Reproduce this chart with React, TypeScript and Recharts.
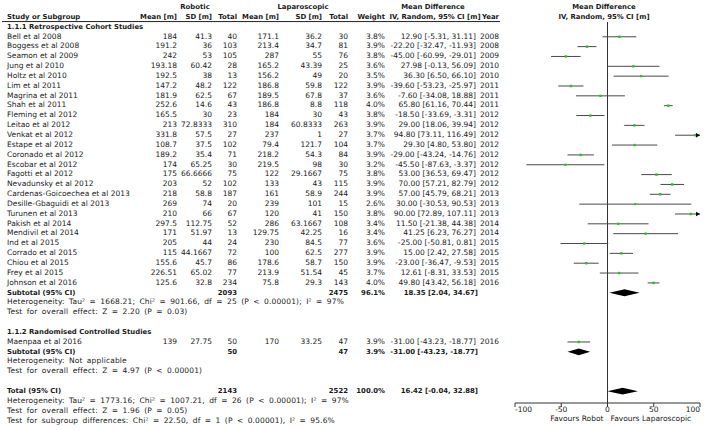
import React from "react";
import { ComposedChart, XAxis, YAxis, Scatter, ReferenceLine } from "recharts";

const FONT = '"DejaVu Sans", Verdana, sans-serif';
const FS = 7.5;
const FS_BOLD = 6.9;

// study rows (operative time, minutes)
const studyNames = [
  "Bell et al 2008", "Boggess et al 2008", "Seamon et al 2009", "Jung et al 2010",
  "Holtz et al 2010", "Lim et al 2011", "Magrina et al 2011", "Shah et al 2011",
  "Fleming et al 2012", "Leitao et al 2012", "Venkat et al 2012", "Estape et al 2012",
  "Coronado et al 2012", "Escobar et al 2012", "Fagotti et al 2012", "Nevadunsky et al 2012",
  "Cardenas-Goicoechea  et al 2013", "Desille-Gbaguidi et al 2013", "Turunen et al 2013",
  "Pakish et al 2014", "Mendivil et al 2014", "Ind et al 2015", "Corrado et al 2015",
  "Chiou et al 2015", "Frey et al 2015", "Johnson et al 2016", "Maenpaa et al 2016",
];
const subgroup = [1, 1, 1, 1, 1, 1, 1, 1, 1, 1, 1, 1, 1, 1, 1, 1, 1, 1, 1, 1, 1, 1, 1, 1, 1, 1, 2];
const roboticMean = [184, 191.2, 242, 193.18, 192.5, 147.2, 181.9, 252.6, 165.5, 213, 331.8, 108.7, 189.2, 174, 175, 203, 218, 269, 210, 297.5, 171, 205, 115, 155.6, 226.51, 125.6, 139];
const roboticSD = [41.3, 36, 53, 60.42, 38, 48.2, 62.5, 14.6, 30, 72.8333, 57.5, 37.5, 35.4, 65.25, 66.6666, 52, 58.8, 74, 66, 112.75, 51.97, 44, 44.1667, 45.7, 65.02, 32.8, 27.75];
const roboticTotal = [40, 103, 105, 28, 13, 122, 67, 43, 23, 310, 27, 102, 71, 30, 75, 102, 187, 20, 67, 52, 13, 24, 72, 86, 77, 234, 50];
const laparoMean = [171.1, 213.4, 287, 165.2, 156.2, 186.8, 189.5, 186.8, 184, 184, 237, 79.4, 218.2, 219.5, 122, 133, 161, 239, 120, 286, 129.75, 230, 100, 178.6, 213.9, 75.8, 170];
const laparoSD = [36.2, 34.7, 55, 43.39, 49, 59.8, 67.8, 8.8, 30, 60.8333, 1, 121.7, 54.3, 98, 29.1667, 43, 58.9, 101, 41, 63.1667, 42.25, 84.5, 62.5, 58.7, 51.54, 29.3, 33.25];
const laparoTotal = [30, 81, 76, 25, 20, 122, 37, 118, 43, 263, 27, 104, 84, 30, 75, 115, 244, 15, 150, 108, 16, 77, 277, 150, 45, 143, 47];
const weightPct = [3.8, 3.9, 3.8, 3.6, 3.5, 3.9, 3.6, 4.0, 3.8, 3.9, 3.7, 3.7, 3.9, 3.2, 3.8, 3.9, 3.9, 2.6, 3.8, 3.4, 3.4, 3.6, 3.9, 3.9, 3.7, 4.0, 3.9];
const meanDiff = [12.9, -22.2, -45.0, 27.98, 36.3, -39.6, -7.6, 65.8, -18.5, 29.0, 94.8, 29.3, -29.0, -45.5, 53.0, 70.0, 57.0, 30.0, 90.0, 11.5, 41.25, -25.0, 15.0, -23.0, 12.61, 49.8, -31.0];
const ciLow = [-5.31, -32.47, -60.99, -0.13, 6.5, -53.23, -34.08, 61.16, -33.69, 18.06, 73.11, 4.8, -43.24, -87.63, 36.53, 57.21, 45.79, -30.53, 72.89, -21.38, 6.23, -50.81, 2.42, -36.47, -8.31, 43.42, -43.23];
const ciHigh = [31.11, -11.93, -29.01, 56.09, 66.1, -25.97, 18.88, 70.44, -3.31, 39.94, 116.49, 53.8, -14.76, -3.37, 69.47, 82.79, 68.21, 90.53, 107.11, 44.38, 76.27, 0.81, 27.58, -9.53, 33.53, 56.18, -18.77];
const studyYear = [2008, 2008, 2009, 2010, 2010, 2011, 2011, 2011, 2012, 2012, 2012, 2012, 2012, 2012, 2012, 2012, 2013, 2013, 2013, 2014, 2014, 2015, 2015, 2015, 2015, 2016, 2016];

// pooled estimates: subgroup 1.1.1, subgroup 1.1.2, overall
const pooledLabels = ["Subtotal (95% CI)", "Subtotal (95% CI)", "Total (95% CI)"];
const pooledRobotic = [2093, 50, 2143];
const pooledLaparo = [2475, 47, 2522];
const pooledWeight = [96.1, 3.9, 100.0];
const pooledMD = [18.35, -31.0, 16.42];
const pooledLow = [2.04, -43.23, -0.04];
const pooledHigh = [34.67, -18.77, 32.88];

const subgroupTitles = ["1.1.1 Retrospective Cohort Studies", "1.1.2 Randomised Controlled Studies"];
const subgroupNotes = [
  ["Heterogeneity: Tau² = 1668.21; Chi² = 901.66, df = 25 (P < 0.00001); I² = 97%", "Test for overall effect: Z = 2.20 (P = 0.03)"],
  ["Heterogeneity: Not applicable", "Test for overall effect: Z = 4.97 (P < 0.00001)"],
];
const totalNotes = [
  "Heterogeneity: Tau² = 1773.16; Chi² = 1007.21, df = 26 (P < 0.00001); I² = 97%",
  "Test for overall effect: Z = 1.96 (P = 0.05)",
  "Test for subgroup differences: Chi² = 22.50, df = 1 (P < 0.00001), I² = 95.6%",
];
const xTicks = [-100, -50, 0, 50, 100];
const X_MIN = -100;
const X_MAX = 100;

// column anchors of the left table
const COL = { name: 7, rMean: 177, rSD: 212, rN: 237, lMean: 279, lSD: 322, lN: 348, wt: 385, ci: 476, year: 499 };

type Cell = { t: string; x: number; a?: "start" | "middle" | "end"; b?: boolean; n?: boolean };

const table = new Map<number, Cell[]>();
const studyLine: number[] = [];
const pooledLine: number[] = [];
let line = 0;
const add = (cells: Cell[]) => {
  table.set(line, cells);
  line += 1;
};

const ciText = (m: number, lo: number, hi: number) => `${m.toFixed(2)} [${lo.toFixed(2)}, ${hi.toFixed(2)}]`;

const pooledCells = (k: number): Cell[] => [
  { t: pooledLabels[k], x: COL.name, b: true },
  { t: String(pooledRobotic[k]), x: COL.rN, a: "end", b: true },
  { t: String(pooledLaparo[k]), x: COL.lN, a: "end", b: true },
  { t: pooledWeight[k].toFixed(1) + "%", x: COL.wt, a: "end", b: true },
  { t: ciText(pooledMD[k], pooledLow[k], pooledHigh[k]), x: COL.ci + 2, a: "end", b: true },
];

add([
  { t: "Robotic", x: 195, a: "middle", b: true },
  { t: "Laparoscopic", x: 303, a: "middle", b: true },
  { t: "Mean Difference", x: 433, a: "middle", b: true },
  { t: "Mean Difference", x: 604, a: "middle", b: true },
]);
add([
  { t: "Study or Subgroup", x: COL.name, b: true },
  { t: "Mean [m]", x: COL.rMean, a: "end", b: true },
  { t: "SD [m]", x: COL.rSD, a: "end", b: true },
  { t: "Total", x: COL.rN, a: "end", b: true },
  { t: "Mean [m]", x: COL.lMean, a: "end", b: true },
  { t: "SD [m]", x: COL.lSD, a: "end", b: true },
  { t: "Total", x: COL.lN, a: "end", b: true },
  { t: "Weight", x: COL.wt, a: "end", b: true },
  { t: "IV, Random, 95% CI [m]", x: 435, a: "middle", b: true },
  { t: "Year", x: COL.year, a: "end", b: true },
  { t: "IV, Random, 95% CI [m]", x: 604, a: "middle", b: true },
]);
const headerLine = 1;

[1, 2].forEach((g, gi) => {
  add([{ t: subgroupTitles[gi], x: COL.name, b: true }]);
  studyNames.forEach((name, i) => {
    if (subgroup[i] !== g) return;
    studyLine[i] = line;
    add([
      { t: name, x: COL.name },
      { t: String(roboticMean[i]), x: COL.rMean, a: "end" },
      { t: String(roboticSD[i]), x: COL.rSD, a: "end" },
      { t: String(roboticTotal[i]), x: COL.rN, a: "end" },
      { t: String(laparoMean[i]), x: COL.lMean, a: "end" },
      { t: String(laparoSD[i]), x: COL.lSD, a: "end" },
      { t: String(laparoTotal[i]), x: COL.lN, a: "end" },
      { t: weightPct[i].toFixed(1) + "%", x: COL.wt, a: "end" },
      { t: ciText(meanDiff[i], ciLow[i], ciHigh[i]), x: COL.ci, a: "end" },
      { t: String(studyYear[i]), x: COL.year, a: "end" },
    ]);
  });
  pooledLine[gi] = line;
  add(pooledCells(gi));
  subgroupNotes[gi].forEach((n) => add([{ t: n, x: COL.name, n: true }]));
  line += 1;
});
pooledLine[2] = line;
add(pooledCells(2));
totalNotes.forEach((n) => add([{ t: n, x: COL.name, n: true }]));

const tableLines = Array.from(table.keys());

const pointData = meanDiff.map((m, i) => ({ x: m, y: studyLine[i], w: weightPct[i] }));
const arrowData = ciHigh
  .map((hi, i) => ({ x: X_MAX, y: studyLine[i], over: hi > X_MAX }))
  .filter((d) => d.over);

const TableRow = (props: any) => {
  const { y, payload } = props;
  const cells = table.get(payload.value) || [];
  return (
    <g>
      {cells.map((c, k) => (
        <text
          key={k}
          x={c.x}
          y={y + 1.8}
          textAnchor={c.a || "start"}
          fontSize={c.b ? FS_BOLD : FS}
          fontWeight={c.b ? "bold" : "normal"}
          fontFamily={FONT}
          fill="#1a1a1a"
          style={c.n ? { wordSpacing: "1.8px", letterSpacing: "0.15px" } : undefined}
        >
          {c.t}
        </text>
      ))}
      {payload.value === headerLine && <line x1={2} x2={500} y1={y + 4.5} y2={y + 4.5} stroke="#222" strokeWidth={1} />}
    </g>
  );
};

const XTick = (props: any) => {
  const { x, y, payload } = props;
  const v = payload.value;
  const anchor = v === X_MIN ? "start" : v === X_MAX ? "end" : "middle";
  return (
    <text x={x} y={y} dy={3.6} textAnchor={anchor} fontSize={FS} fontFamily={FONT} fill="#1a1a1a">
      {v}
    </text>
  );
};

const FavoursLabel = (props: any) => {
  const vb = props.viewBox;
  const cx = vb.x + vb.width / 2;
  return (
    <g fontSize={FS} fontFamily={FONT} fill="#1a1a1a">
      <text x={cx - 4} y={vb.y + 18} textAnchor="end">Favours Robot</text>
      <text x={cx + 3} y={vb.y + 18} textAnchor="start">Favours Laparoscopic</text>
    </g>
  );
};

const Diamond = (props: any) => {
  const { x1, x2, y1 } = props;
  const mx = (x1 + x2) / 2;
  const h = 3.4;
  return <polygon points={`${x1},${y1} ${mx},${y1 - h} ${x2},${y1} ${mx},${y1 + h}`} fill="#000" />;
};

export default function App() {
  return (
    <div style={{ position: "absolute", left: 0, top: 0, background: "#fff" }}>
      <ComposedChart width={709} height={430} margin={{ top: 22, right: 9, bottom: 0, left: 0 }}>
        <XAxis
          type="number"
          dataKey="x"
          domain={[X_MIN, X_MAX]}
          allowDataOverflow
          ticks={xTicks}
          interval={0}
          height={27}
          tickSize={4}
          tickMargin={1}
          stroke="#333"
          tick={<XTick />}
          label={<FavoursLabel />}
        />
        <YAxis
          type="number"
          dataKey="y"
          domain={[1.5, 40.2]}
          reversed
          allowDataOverflow
          width={515}
          ticks={tableLines}
          interval={0}
          tickLine={false}
          axisLine={false}
          tick={(p: any) => <TableRow {...p} />}
        />
        <ReferenceLine x={0} stroke="#333" strokeWidth={1} />
        {meanDiff.map((m, i) => (
          <ReferenceLine
            key={`ci-${i}`}
            segment={[
              { x: Math.max(ciLow[i], X_MIN), y: studyLine[i] },
              { x: Math.min(ciHigh[i], X_MAX), y: studyLine[i] },
            ]}
            stroke="#4a4a4a"
            strokeWidth={1}
            ifOverflow="visible"
          />
        ))}
        {pooledMD.map((m, k) => (
          <ReferenceLine
            key={`pool-${k}`}
            segment={[
              { x: pooledLow[k], y: pooledLine[k] },
              { x: pooledHigh[k], y: pooledLine[k] },
            ]}
            ifOverflow="visible"
            shape={(p: any) => <Diamond {...p} />}
          />
        ))}
        <Scatter
          data={pointData}
          isAnimationActive={false}
          shape={(p: any) => {
            const s = Math.sqrt(p.payload.w) * 1.25;
            return <rect x={p.cx - s / 2} y={p.cy - s / 2} width={s} height={s} fill="#33bb33" />;
          }}
        />
        <Scatter
          data={arrowData}
          isAnimationActive={false}
          shape={(p: any) => (
            <polygon points={`${p.cx},${p.cy} ${p.cx - 4},${p.cy - 2.3} ${p.cx - 4},${p.cy + 2.3}`} fill="#000" />
          )}
        />
      </ComposedChart>
    </div>
  );
}
